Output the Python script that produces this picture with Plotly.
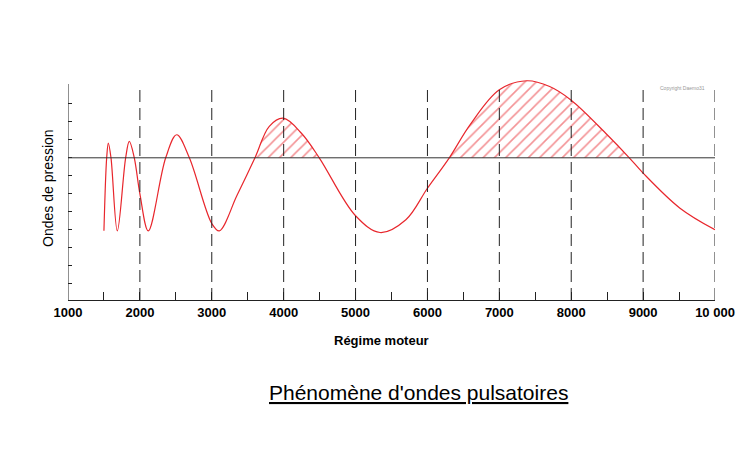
import plotly.graph_objects as go
import numpy as np

# Data
rpm = [1500, 1538, 1561, 1598, 1686, 1802, 1853, 1922, 2000, 2117, 2359, 2512, 2688,
       3000, 3105, 3350, 3601, 3800, 3995, 4250, 4495, 5000, 5340, 5700, 6000, 6304,
       6592, 7000, 7381, 7700, 8000, 8500, 8808, 9000, 9513, 10000]
pression = [-4.05, 0.0, 0.82, 0.0, -4.06, 0.0, 0.91, 0.0, -2.0, -4.06, 0.0, 1.28, 0.0,
            -3.65, -4.06, -2.1, 0.0, 1.75, 2.2, 1.35, 0.0, -3.22, -4.15, -3.44, -1.69, 0.0,
            1.83, 3.78, 4.28, 3.96, 3.2, 1.28, 0.0, -0.85, -2.8, -4.0]
hatched_ranges = [(3601, 4495), (6304, 8808)]
grid_rpm = [2000, 3000, 4000, 5000, 6000, 7000, 8000, 9000, 10000]
x_tickvals = [1000, 1500, 2000, 2500, 3000, 3500, 4000, 4500, 5000, 5500, 6000, 6500,
              7000, 7500, 8000, 8500, 9000, 9500, 10000]
x_ticktext = ["1000", "", "2000", "", "3000", "", "4000", "", "5000", "", "6000", "",
              "7000", "", "8000", "", "9000", "", "10 000"]
y_tickvals = [-7, -6, -5, -4, -3, -2, -1, 0, 1, 2, 3]

RED = "#e8262c"
FONT = "Liberation Sans, Arial, sans-serif"

x_arr = np.array(rpm)
y_arr = np.array(pression)

fig = go.Figure()

for lo, hi in hatched_ranges:
    m = (x_arr >= lo) & (x_arr <= hi)
    fig.add_trace(go.Scatter(
        x=x_arr[m], y=y_arr[m], mode="lines", line=dict(width=0, shape="spline", color=RED),
        fill="tozeroy", fillcolor="rgba(0,0,0,0)",
        fillpattern=dict(shape="/", fgcolor=RED, bgcolor="rgba(0,0,0,0)", size=8,
                         solidity=0.2, fillmode="overlay"),
        hoverinfo="skip", showlegend=False))

fig.add_trace(go.Scatter(x=rpm, y=pression, mode="lines",
                         line=dict(color=RED, width=1.2, shape="spline", smoothing=1.0),
                         showlegend=False))

shapes = []
for g in grid_rpm:
    shapes.append(dict(type="line", xref="x", yref="y", x0=g, x1=g, y0=-7.9, y1=4.1,
                       line=dict(color="#222222", width=1, dash="12px,6px")))
shapes.append(dict(type="line", xref="x", yref="y", x0=1000, x1=1000, y0=-7.9, y1=4.1,
                   line=dict(color="#222222", width=1)))
shapes.append(dict(type="line", xref="x", yref="y", x0=1000, x1=10000, y0=0, y1=0,
                   line=dict(color="#333333", width=1)))

fig.update_layout(
    width=750, height=450,
    margin=dict(l=60, r=43, t=67, b=158),
    paper_bgcolor="white", plot_bgcolor="white",
    shapes=shapes,
    xaxis=dict(range=[1000, 10000], showgrid=False, zeroline=False,
               showline=True, linecolor="#222222", linewidth=1,
               ticks="inside", ticklen=8, tickcolor="#222222",
               tickvals=x_tickvals, ticktext=x_ticktext,
               tickfont=dict(family=FONT, size=13, color="black", weight="bold")),
    yaxis=dict(range=[-7.9, 4.6], showgrid=False, zeroline=False, showline=False,
               ticks="inside", ticklen=4, tickcolor="#222222",
               tickvals=y_tickvals, showticklabels=False),
    annotations=[
        dict(text="Régime moteur", xref="paper", yref="paper", x=0.485, y=-0.182,
             showarrow=False, xanchor="center", yanchor="middle",
             font=dict(family=FONT, size=13, color="black", weight="bold")),
        dict(text="Ondes de pression", xref="paper", yref="paper", x=-0.031, y=0.498,
             showarrow=False, xanchor="center", yanchor="middle", textangle=-90,
             font=dict(family=FONT, size=14, color="black")),
        dict(text="<u>Phénomène d'ondes pulsatoires</u>", xref="paper", yref="paper",
             x=0.5425, y=-0.409, showarrow=False, xanchor="center", yanchor="middle",
             font=dict(family=FONT, size=21, color="black")),
        dict(text="Copyright Daemo31", xref="paper", yref="paper", x=0.9505, y=0.942,
             showarrow=False, xanchor="center", yanchor="middle",
             font=dict(family=FONT, size=5, color="#999999")),
    ],
)

fig.write_html("out.html")
